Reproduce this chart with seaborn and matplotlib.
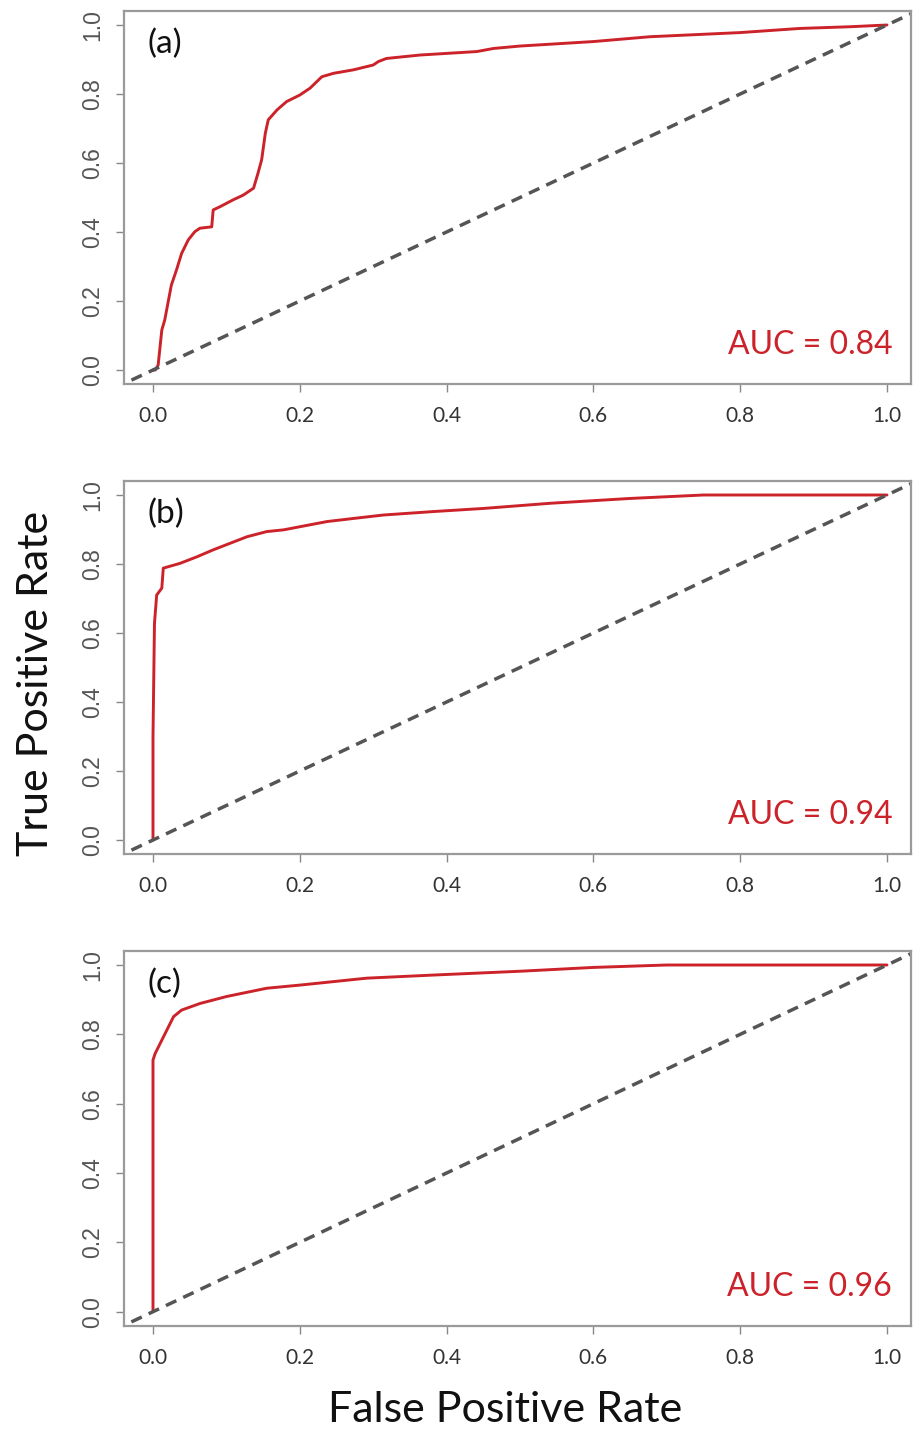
import numpy as np
import pandas as pd
import matplotlib
matplotlib.use("Agg")
import matplotlib.pyplot as plt
import seaborn as sns

# ---------------- data ----------------
fpr_a = [0.0, 0.003, 0.007, 0.012, 0.016, 0.025, 0.032, 0.039, 0.048, 0.057, 0.064,
         0.080, 0.082, 0.091, 0.109, 0.123, 0.137, 0.143, 0.148, 0.153, 0.157, 0.169,
         0.182, 0.200, 0.214, 0.230, 0.246, 0.273, 0.300, 0.307, 0.318, 0.364, 0.441,
         0.464, 0.500, 0.600, 0.677, 0.800, 0.881, 0.950, 1.0]
tpr_a = [0.0, 0.0, 0.014, 0.116, 0.145, 0.246, 0.290, 0.338, 0.377, 0.401, 0.411,
         0.415, 0.464, 0.473, 0.493, 0.507, 0.527, 0.570, 0.609, 0.686, 0.725, 0.754,
         0.778, 0.797, 0.817, 0.850, 0.860, 0.870, 0.884, 0.894, 0.903, 0.913, 0.923,
         0.932, 0.939, 0.952, 0.966, 0.978, 0.990, 0.995, 1.0]

fpr_b = [0.0, 0.0, 0.002, 0.005, 0.012, 0.014, 0.037, 0.060, 0.082, 0.105, 0.128,
         0.155, 0.178, 0.200, 0.237, 0.273, 0.314, 0.382, 0.450, 0.541, 0.650, 0.750, 1.0]
tpr_b = [0.0, 0.30, 0.628, 0.710, 0.730, 0.788, 0.802, 0.821, 0.841, 0.860, 0.879,
         0.894, 0.899, 0.908, 0.923, 0.932, 0.942, 0.952, 0.961, 0.976, 0.990, 1.0, 1.0]

fpr_c = [0.0, 0.0, 0.003, 0.028, 0.039, 0.064, 0.100, 0.155, 0.200, 0.291, 0.382,
         0.500, 0.600, 0.700, 1.0]
tpr_c = [0.0, 0.726, 0.745, 0.851, 0.870, 0.889, 0.909, 0.933, 0.942, 0.962, 0.971,
         0.982, 0.993, 1.0, 1.0]

panel_labels = ["(a)", "(b)", "(c)"]
auc_values = [0.84, 0.94, 0.96]
tick_values = [0.0, 0.2, 0.4, 0.6, 0.8, 1.0]
tick_labels = ["0.0", "0.2", "0.4", "0.6", "0.8", "1.0"]
diag = [-0.1, 1.1]

# ---------------- style ----------------
sns.set_style("white")
plt.rcParams["font.family"] = ["Lato", "DejaVu Sans"]

RED = "#cc2229"
GREY_LINE = "#555555"
SPINE = "#9a9a9a"

W, H = 913, 1430
fig = plt.figure(figsize=(W / 100, H / 100), dpi=100)

x0_px, x1_px = 153, 887          # pixel position of x=0 and x=1
right_px = 911
xmin = -0.04
xmax = (right_px - x0_px) / (x1_px - x0_px)

panels = [
    (370.0, 25.0, fpr_a, tpr_a),
    (840.0, 495.0, fpr_b, tpr_b),
    (1311.7, 965.0, fpr_c, tpr_c),
]

for i, (y0_px, y1_px, fx, ty) in enumerate(panels):
    unit = y0_px - y1_px
    bottom_px = y0_px + 0.04 * unit
    top_px = y1_px - 0.04 * unit
    left_px = x0_px + xmin * (x1_px - x0_px)
    ax = fig.add_axes([left_px / W, 1 - bottom_px / H,
                       (right_px - left_px) / W, (bottom_px - top_px) / H])

    df = pd.DataFrame({"fpr": fx, "tpr": ty})
    sns.lineplot(data=df, x="fpr", y="tpr", ax=ax, color=RED, lw=2.1,
                 sort=False, estimator=None)
    dd = pd.DataFrame({"x": diag, "y": diag})
    sns.lineplot(data=dd, x="x", y="y", ax=ax, color=GREY_LINE, lw=2.5,
                 sort=False, estimator=None, dashes=False)
    ax.lines[-1].set_linestyle((0, (3.3, 2.2)))

    ax.set_xlim(xmin, xmax)
    ax.set_ylim(-0.04, 1.04)
    ax.set_xlabel("")
    ax.set_ylabel("")
    ax.set_xticks(tick_values)
    ax.set_xticklabels(tick_labels, fontsize=15, color="#333333")
    ax.set_yticks(tick_values)
    ax.set_yticklabels(tick_labels, fontsize=16.5, color="#555555",
                       rotation=90, va="center", family=["Liberation Sans"])
    ax.tick_params(axis="both", direction="out", length=6, width=1.0,
                   color="#888888", bottom=True, left=True)
    ax.tick_params(axis="x", pad=10)
    ax.tick_params(axis="y", pad=8)
    for s in ax.spines.values():
        s.set_color(SPINE)
        s.set_linewidth(1.6)

    ax.text(-0.008, 0.945, panel_labels[i], fontsize=24, color="#111111",
            ha="left", va="center")
    ax.text(1.007, 0.072, f"AUC = {auc_values[i]:.2f}", fontsize=23,
            color=RED, ha="right", va="center")

fig.text(36 / W, 1 - 683 / H, "True Positive Rate", rotation=90, fontsize=31,
         ha="center", va="center", color="#111111")
fig.text(505 / W, 1 - 1410 / H, "False Positive Rate", fontsize=31,
         ha="center", va="center", color="#111111")

fig.savefig("out.png", dpi=100)
